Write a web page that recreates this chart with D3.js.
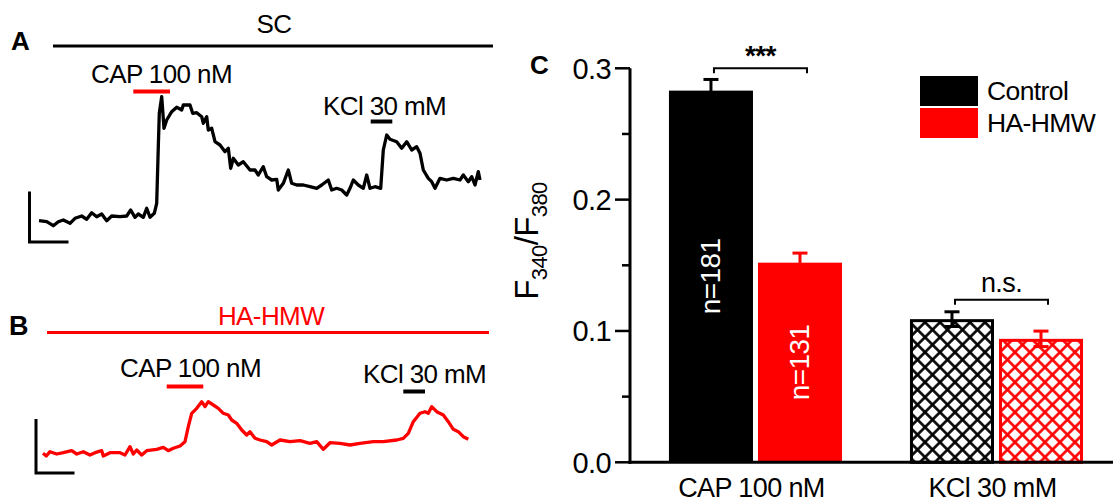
<!DOCTYPE html>
<html>
<head>
<meta charset="utf-8">
<script src="https://cdn.jsdelivr.net/npm/d3@7/dist/d3.min.js"></script>
<style>
  html, body { margin: 0; padding: 0; background: #fff; }
  svg { display: block; font-family: "Liberation Sans", Arial, sans-serif; }
</style>
</head>
<body>
<svg id="chart" width="1113" height="504"></svg>
<script>
// ---------------- DATA ----------------
// Panel A trace (SC): time (s) and ratio change (a.u.)
const traceA_t = [0,7.7,14.3,19.3,24.3,31,36,42.7,47.7,52.7,57.7,62.7,67.7,72.7,81,87.7,91.7,96,99.3,104.3,107.7,111,115.3,117.7,119.3,120.3,122.7,125,127.7,132.7,137.7,142.7,144.3,151,153.7,157.7,162.7,164.3,167.7,169.3,172.7,176,181,186,189.3,191.7,194.3,199.3,204.3,211,216,219.3,224.3,227.7,232.7,237.7,239.3,244.3,249.3,252.7,257.7,264.3,271,277.7,282.7,289.3,292.7,297.7,302.7,307.7,311,314.3,319.3,324.3,327.7,331,336,341.7,344.3,347.7,351,357.7,362.7,367.7,372.7,377.7,381,384.3,389.3,392.7,396,401,407.7,414.3,421,424.3,429.3,432.7,436,439.3,441];
const traceA_v = [4.3,3.3,-0.7,3.3,5,1.7,6.7,9,5.7,12.3,8.3,11,4.3,9,8.3,9,15,7.7,11,7.7,16.7,7.7,11.7,21.7,78.3,111.7,128.3,96.7,105,113.3,117.7,115,120,120,111.7,112.3,108.3,101.7,108.3,95,96.7,83.3,80,73.3,76.7,56.7,66.7,60,63.3,55,55,50,58.3,48.3,45,45.7,35,41.7,55,41.7,40,40,38.3,36.7,40,45,35,36.7,35,30,36.7,45,40,36.7,50,36.7,38.3,36.7,75,90,85.7,83.3,76.7,83.3,75,78.3,71.7,55,46.7,43.3,36.7,46.7,45,46.7,45,50,43.3,48.3,40,53.3,45];
// Panel B trace (HA-HMW)
const traceB_t = [0,3.3,7,13.7,20.3,28.7,33.7,40.3,47,52,58.7,60.3,67,77,82,87,90.3,93.7,98.7,103.7,113.7,120.3,125.3,130.3,137,142,145.3,148.7,153.7,158.7,162,165.3,170.3,175.3,180.3,185.3,188.7,193.7,198.7,203.7,207,212,217,223.7,228.7,237,247,257,267,273.7,280.3,287,297,307,317,330.3,340.3,353.7,360.3,365.3,370.3,377,382,385.3,388.7,393.7,400.3,405.3,410.3,415.3,420.3,425.3];
const traceB_v = [6.7,4,8.3,6,7.3,9.3,6,8.3,5,7.3,9.3,4,7.3,7.3,5,13.3,6,10,5,9.3,10.7,12.7,9.3,11.7,14,18.3,33.3,46.7,51.7,58.3,53.3,58.3,55,51.7,46.7,45,40,36.7,30,25,28.3,21.7,20,18.3,15,20,18.3,19.3,16.7,18.3,10.7,17.3,16.7,15,16.7,18.3,18.3,20,21.7,26.7,38.3,46.7,48.3,46.7,53.3,48.3,45,38.3,30.7,28.3,23.3,20.7];
// Stimulus application windows (s): [start, end]
const stimA_cap = [94.3, 131];
const stimA_kcl = [331.7, 353.3];
const stimB_cap = [123.7, 160.3];
const stimB_kcl = [360.3, 382];

// Panel C bar chart
const categories = ["CAP 100 nM", "KCl 30 mM"];
const seriesNames = ["Control", "HA-HMW"];
const controlMeans = [0.283, 0.109];
const controlErrors = [0.0085, 0.0056];
const hmwMeans = [0.152, 0.094];
const hmwErrors = [0.0073, 0.0059];
const capCounts = ["n=181", "n=131"];
const yTicks = [0, 0.1, 0.2, 0.3];
const yMinorTicks = [0.05, 0.15, 0.25];
const sigLabels = ["***", "n.s."];

// ---------------- DRAW ----------------
const RED = "#ff0000";
const LS = -0.6; // tight letter spacing like the reference
const svg = d3.select("#chart");

// ---- Panel A ----
const xA = d3.scaleLinear().domain([0, 441]).range([39, 480]);
const yA = d3.scaleLinear().domain([0, 130]).range([225, 95]);
const gA = svg.append("g");
gA.append("text").attr("x", 11).attr("y", 49.5).attr("font-size", 26).attr("font-weight", "bold").text("A");
gA.append("line").attr("x1", 53).attr("x2", 493).attr("y1", 46).attr("y2", 46).attr("stroke", "#000").attr("stroke-width", 3);
gA.append("text").attr("x", 274).attr("y", 33).attr("font-size", 26).attr("letter-spacing", LS).attr("text-anchor", "middle").text("SC");
gA.append("text").attr("x", 91).attr("y", 83).attr("font-size", 26).attr("letter-spacing", LS).text("CAP 100 nM");
gA.append("text").attr("x", 323).attr("y", 115).attr("font-size", 26).attr("letter-spacing", LS).text("KCl 30 mM");
gA.append("line").attr("x1", xA(stimA_cap[0])).attr("x2", xA(stimA_cap[1])).attr("y1", 91.5).attr("y2", 91.5).attr("stroke", RED).attr("stroke-width", 4);
gA.append("line").attr("x1", xA(stimA_kcl[0])).attr("x2", xA(stimA_kcl[1])).attr("y1", 121.5).attr("y2", 121.5).attr("stroke", "#000").attr("stroke-width", 4);
gA.append("path")
  .attr("d", d3.line().x(d => xA(d[0])).y(d => yA(d[1]))(traceA_t.map((t, i) => [t, traceA_v[i]])))
  .attr("fill", "none").attr("stroke", "#000").attr("stroke-width", 3.3).attr("stroke-linejoin", "round");
gA.append("path").attr("d", "M29.5,191.5 V242 H68.5").attr("fill", "none").attr("stroke", "#000").attr("stroke-width", 3);

// ---- Panel B ----
const xB = d3.scaleLinear().domain([0, 425]).range([43, 468]);
const yB = d3.scaleLinear().domain([0, 60]).range([460, 400]);
const gB = svg.append("g");
gB.append("text").attr("x", 9).attr("y", 335).attr("font-size", 27).attr("font-weight", "bold").text("B");
gB.append("line").attr("x1", 47).attr("x2", 489).attr("y1", 332.5).attr("y2", 332.5).attr("stroke", RED).attr("stroke-width", 3);
gB.append("text").attr("x", 271).attr("y", 325).attr("font-size", 26).attr("letter-spacing", LS).attr("text-anchor", "middle").attr("fill", RED).text("HA-HMW");
gB.append("text").attr("x", 120).attr("y", 377).attr("font-size", 26).attr("letter-spacing", LS).text("CAP 100 nM");
gB.append("text").attr("x", 363).attr("y", 383).attr("font-size", 26).attr("letter-spacing", LS).text("KCl 30 mM");
gB.append("line").attr("x1", xB(stimB_cap[0])).attr("x2", xB(stimB_cap[1])).attr("y1", 386.5).attr("y2", 386.5).attr("stroke", RED).attr("stroke-width", 4);
gB.append("line").attr("x1", xB(stimB_kcl[0])).attr("x2", xB(stimB_kcl[1])).attr("y1", 391.5).attr("y2", 391.5).attr("stroke", "#000").attr("stroke-width", 4);
gB.append("path")
  .attr("d", d3.line().x(d => xB(d[0])).y(d => yB(d[1]))(traceB_t.map((t, i) => [t, traceB_v[i]])))
  .attr("fill", "none").attr("stroke", RED).attr("stroke-width", 3.3).attr("stroke-linejoin", "round");
gB.append("path").attr("d", "M36,419 V473 H74.5").attr("fill", "none").attr("stroke", "#000").attr("stroke-width", 3);

// ---- Panel C ----
const defs = svg.append("defs");
function hatch(id, color) {
  const p = defs.append("pattern").attr("id", id).attr("patternUnits", "userSpaceOnUse")
    .attr("width", 10.6).attr("height", 10.6).attr("patternTransform", "translate(910,0) rotate(45)");
  p.append("rect").attr("width", 10.6).attr("height", 10.6).attr("fill", "#fff");
  p.append("line").attr("x1", 5.3).attr("x2", 5.3).attr("y1", 0).attr("y2", 10.6).attr("stroke", color).attr("stroke-width", 2.6);
  p.append("line").attr("y1", 5.3).attr("y2", 5.3).attr("x1", 0).attr("x2", 10.6).attr("stroke", color).attr("stroke-width", 2.6);
}
hatch("hatchBlack", "#000");
hatch("hatchRed", RED);

const y = d3.scaleLinear().domain([0, 0.3]).range([462.3, 68.3]);
const x0 = d3.scaleBand().domain(categories).range([630, 1113]).paddingInner(0.282).paddingOuter(0.143).align(0.565);
const x1 = d3.scaleBand().domain(seriesNames).range([0, x0.bandwidth()]).paddingInner(0.056);
const colors = { "Control": "#000", "HA-HMW": RED };
const means = { "Control": controlMeans, "HA-HMW": hmwMeans };
const errs = { "Control": controlErrors, "HA-HMW": hmwErrors };

const gC = svg.append("g");
const bars = [];
categories.forEach((c, ci) => seriesNames.forEach((s, si) => bars.push({ c, ci, s, si, v: means[s][ci], e: errs[s][ci] })));

// bars
bars.forEach(b => {
  const bx = x0(b.c) + x1(b.s), bw = x1.bandwidth();
  if (b.ci === 0) {
    gC.append("rect").attr("x", bx).attr("y", y(b.v)).attr("width", bw).attr("height", y(0) - y(b.v)).attr("fill", colors[b.s]);
  } else {
    gC.append("rect").attr("x", bx + 1.5).attr("y", y(b.v) + 1.5).attr("width", bw - 3).attr("height", y(0) - y(b.v) - 1.5)
      .attr("fill", b.si === 0 ? "url(#hatchBlack)" : "url(#hatchRed)").attr("stroke", colors[b.s]).attr("stroke-width", 3);
  }
});
// error bars
bars.forEach(b => {
  const cx = x0(b.c) + x1(b.s) + x1.bandwidth() / 2;
  const g = gC.append("g").attr("stroke", colors[b.s]).attr("stroke-width", 3);
  g.append("line").attr("x1", cx).attr("x2", cx).attr("y1", y(b.v + b.e)).attr("y2", y(b.v - b.e));
  g.append("line").attr("x1", cx - 7.5).attr("x2", cx + 7.5).attr("y1", y(b.v + b.e)).attr("y2", y(b.v + b.e));
  g.append("line").attr("x1", cx - 7.5).attr("x2", cx + 7.5).attr("y1", y(b.v - b.e)).attr("y2", y(b.v - b.e));
});
// n labels
capCounts.forEach((lab, si) => {
  const s = seriesNames[si];
  const cx = x0(categories[0]) + x1(s) + x1.bandwidth() / 2;
  const cy = (y(means[s][0]) + y(0)) / 2;
  gC.append("text").attr("transform", `translate(${cx + 9},${cy}) rotate(-90)`)
    .attr("text-anchor", "middle").attr("font-size", 28).attr("letter-spacing", LS).attr("fill", "#fff").text(lab);
});

// axes
const yAxis = gC.append("g");
yAxis.append("line").attr("x1", 630).attr("x2", 630).attr("y1", y(0.3)).attr("y2", y(0) + 1.5).attr("stroke", "#000").attr("stroke-width", 3);
yTicks.forEach(t => {
  yAxis.append("line").attr("x1", 615).attr("x2", 630).attr("y1", y(t)).attr("y2", y(t)).attr("stroke", "#000").attr("stroke-width", 2.5);
  yAxis.append("text").attr("x", 611).attr("y", y(t)).attr("dy", "0.36em").attr("text-anchor", "end").attr("font-size", 29).attr("letter-spacing", LS).text(d3.format(".1f")(t));
});
yMinorTicks.forEach(t => {
  yAxis.append("line").attr("x1", 622).attr("x2", 630).attr("y1", y(t)).attr("y2", y(t)).attr("stroke", "#000").attr("stroke-width", 2.5);
});
gC.append("line").attr("x1", 628.5).attr("x2", 1113).attr("y1", y(0)).attr("y2", y(0)).attr("stroke", "#000").attr("stroke-width", 3);
categories.forEach(c => {
  gC.append("text").attr("x", x0(c) + x0.bandwidth() / 2 - 4).attr("y", 497).attr("text-anchor", "middle")
    .attr("font-size", 27).attr("letter-spacing", LS).text(c);
});

// y label
const yl = gC.append("text").attr("transform", "translate(538,241) rotate(-90)").attr("text-anchor", "middle").attr("font-size", 33).attr("letter-spacing", LS);
yl.append("tspan").text("F");
yl.append("tspan").attr("font-size", 22).attr("dy", 9).text("340");
yl.append("tspan").attr("dy", -9).text("/F");
yl.append("tspan").attr("font-size", 22).attr("dy", 9).text("380");

gC.append("text").attr("x", 530).attr("y", 74).attr("font-size", 26).attr("font-weight", "bold").text("C");

// significance brackets
categories.forEach((c, ci) => {
  const ca = x0(c) + x1(seriesNames[0]) + x1.bandwidth() / 2 + 3;
  const cb = x0(c) + x1(seriesNames[1]) + x1.bandwidth() / 2 + 7;
  const top = ci === 0 ? y(0.3) : y(0.1238);
  gC.append("path").attr("d", `M${ca},${top + 5} V${top} H${cb} V${top + 5}`).attr("fill", "none").attr("stroke", "#000").attr("stroke-width", 2);
  gC.append("text").attr("x", (ca + cb) / 2).attr("y", ci === 0 ? top - 3 : top - 8).attr("text-anchor", "middle")
    .attr("font-size", ci === 0 ? 28 : 27).attr("letter-spacing", LS).attr("font-weight", ci === 0 ? "bold" : "normal").text(sigLabels[ci]);
});

// legend
const lg = gC.append("g");
seriesNames.forEach((s, i) => {
  lg.append("rect").attr("x", 920).attr("y", 76 + i * 32).attr("width", 58).attr("height", 30).attr("fill", colors[s]);
  lg.append("text").attr("x", 987).attr("y", 100 + i * 32).attr("font-size", 26.5).attr("letter-spacing", LS).text(s);
});
</script>
</body>
</html>
